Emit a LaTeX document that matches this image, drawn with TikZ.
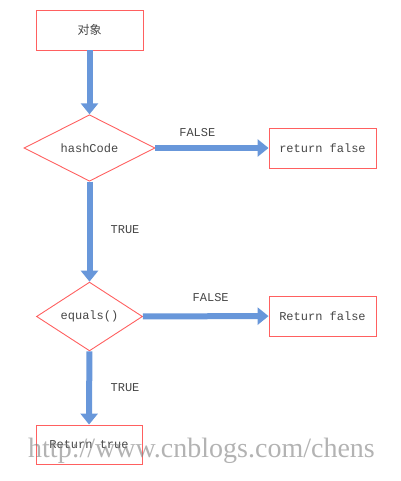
\documentclass[tikz,border=0pt]{standalone}
\usepackage{fontspec}
\setmonofont{Liberation Mono}
\setmainfont{Liberation Serif}
\newfontfamily\cjk{Noto Sans CJK SC}
\usetikzlibrary{shapes.geometric,arrows.meta}
\definecolor{flowblue}{RGB}{104,151,218}
\definecolor{boxred}{RGB}{255,96,96}
\definecolor{txtgray}{RGB}{70,70,70}
\tikzset{
  >=latex,
  box/.style={draw=boxred,line width=0.9pt,rectangle,minimum width=107pt,
    minimum height=40pt,inner sep=0pt,text=txtgray,
    font=\ttfamily\fontsize{12}{14}\selectfont},
  test/.style={draw=boxred,line width=0.9pt,diamond,inner sep=0pt,
    text=txtgray,font=\ttfamily\fontsize{12}{14}\selectfont},
  flow/.style={draw=flowblue,line width=6pt,
    -{Triangle[width=17pt,length=11pt]}},
  lbl/.style={text=txtgray,font=\ttfamily\fontsize{12}{14}\selectfont}
}
\begin{document}
\begin{tikzpicture}[x=1pt,y=-1pt]
  \useasboundingbox (0,0) rectangle (400,481);
  \node[box] (obj) at (89.5,30) {\cjk 对象};
  \node[test,minimum width=131pt,minimum height=60pt] (hash) at (89.5,148) {hashCode};
  \node[box] (ret1) at (322.5,148) {return false};
  \node[test,minimum width=106pt,minimum height=59pt] (eq) at (89.5,316.5) {equals()};
  \node[box] (ret2) at (322.5,316) {Return false};
  \node[box,minimum width=106pt,minimum height=39pt] (ret3) at (89,444.5) {Return true};
  % connectors
  \draw[flow] (obj) -- (hash);
  \draw[flow] (hash) -- (ret1) node[lbl,pos=0.37,above=5pt] (f1) {FALSE};
  \draw[flow] (hash) -- (eq);
  \draw[flow] (eq) -- (ret2) node[lbl,pos=0.54,above=8pt] (f2) {FALSE};
  \draw[flow] (eq) -- (ret3);
  \node[lbl] (t1) at (125,230) {TRUE};
  \node[lbl] (t2) at (125,388) {TRUE};
  % watermark
  \node[anchor=base west,inner sep=0pt,text=gray,opacity=0.6,
    font=\fontsize{28}{30}\selectfont] (mark) at (28,457) {http://www.cnblogs.com/chens};
\end{tikzpicture}
\end{document}
